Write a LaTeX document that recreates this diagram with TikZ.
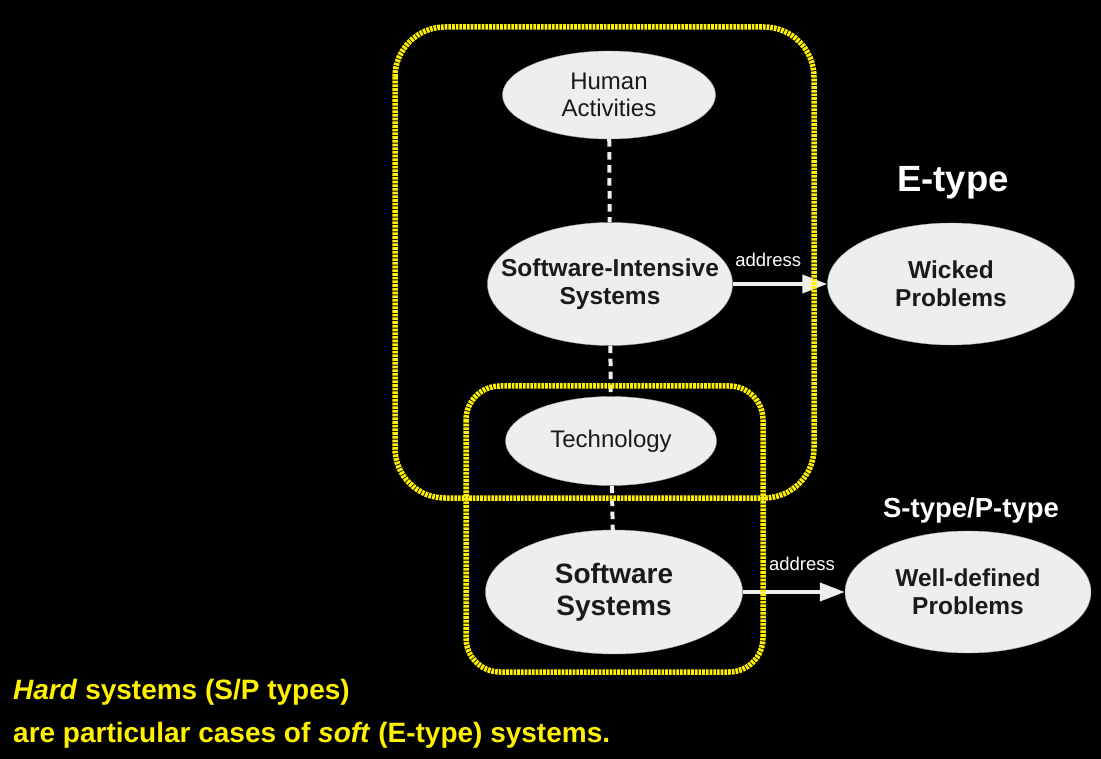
\documentclass[tikz,border=0pt]{standalone}
\usepackage{fontspec}
\setmainfont{Liberation Sans}
\usetikzlibrary{shapes.geometric,arrows.meta}
\definecolor{nodegray}{HTML}{EEEEEE}
\definecolor{inkgray}{HTML}{1A1A1A}
\tikzset{
    x=1pt, y=-1pt, % one unit per pixel of the slide, y going down
    }

\begin{document}
\begin{tikzpicture}[
ovalnode/.style={ellipse, fill=nodegray, draw=gray!70, thin, inner xsep=-30pt, inner ysep=0pt, align=center, text=inkgray, font=\fontsize{24}{27}\selectfont},
boldnode/.style={ovalnode, font=\fontsize{24.5}{28}\selectfont\bfseries},
linkline/.style={draw=nodegray, line width=4pt, dash pattern=on 7.5pt off 5.5pt},
addrarrow/.style={draw=nodegray, line width=4pt, -{Triangle[length=25pt,width=18pt]}},
addrlabel/.style={text=white, inner sep=0pt, font=\fontsize{18.5}{20}\selectfont},
groupbox/.style={draw=yellow, line width=5.5pt, dash pattern=on 2.7pt off 1pt},
notetext/.style={anchor=base west, inner sep=0pt, text=yellow, font=\fontsize{28}{32}\selectfont\bfseries},
]
\fill[black] (0,0) rectangle (1101,759);

\node[ovalnode, minimum width=213pt, minimum height=88pt] (human) at (609,95) {Human\\Activities};
\node[boldnode, minimum width=245pt, minimum height=123pt] (intensive) at (610,284) {Software-Intensive\\Systems};
\node[ovalnode, minimum width=211pt, minimum height=89pt] (tech) at (611,441) {Technology};
\node[boldnode, minimum width=257pt, minimum height=124pt, font=\fontsize{28}{32}\selectfont\bfseries] (software) at (614,592) {Software\\Systems};
\node[boldnode, minimum width=247pt, minimum height=122pt] (wicked) at (951,284) {Wicked\\Problems};
\node[boldnode, minimum width=246pt, minimum height=122pt] (welldef) at (968,592) {Well-defined\\Problems};

\node[text=white, font=\fontsize{36.5}{38}\selectfont\bfseries] (etype) at (953,183) {E-type};
\node[text=white, font=\fontsize{27.5}{30}\selectfont\bfseries] (sptype) at (971,510) {S-type/P-type};

\draw[linkline] (human) -- (intensive);
\draw[linkline] (intensive) -- (tech);
\draw[linkline] (tech) -- (software);

\draw[addrarrow] (intensive) -- node[addrlabel, pos=0.375, above=15pt] {address} (wicked);
\draw[addrarrow] (software) -- node[addrlabel, pos=0.58, above=19pt] {address} (welldef);

% the two system boundaries
\draw[groupbox, rounded corners=50pt] (395,27) rectangle (814,498);
\draw[groupbox, rounded corners=34pt] (466,386) rectangle (763,672);

\node[notetext] (hard) at (13,699) {\textit{Hard} systems (S/P types)};
\node[notetext] (soft) at (13,742) {are particular cases of \textit{soft} (E-type) systems.};
\end{tikzpicture}
\end{document}
